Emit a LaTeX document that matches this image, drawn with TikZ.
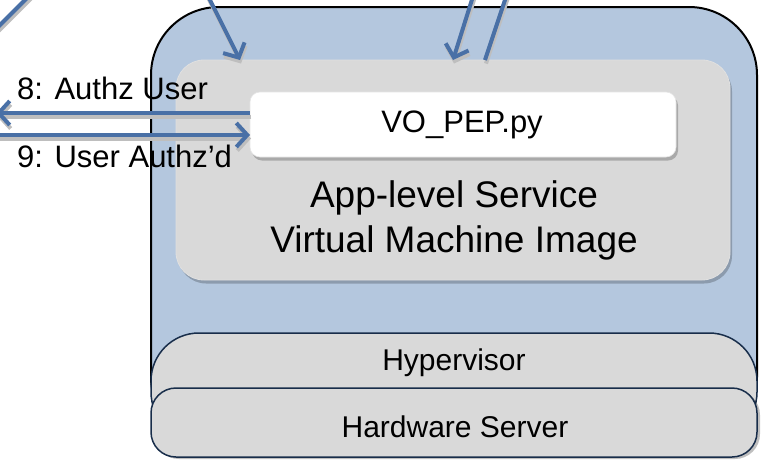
\documentclass[tikz,border=0pt]{standalone}
\usepackage{fontspec}
\setmainfont{Liberation Sans}
\usetikzlibrary{arrows.meta,shadows}
\definecolor{boxblue}{RGB}{180,199,222}
\definecolor{boxgray}{RGB}{217,217,217}
\definecolor{navy}{RGB}{24,45,74}
\definecolor{arrowblue}{RGB}{73,112,166}
\definecolor{shadowgray}{RGB}{190,190,190}
\begin{document}
\begin{tikzpicture}[x=1pt,y=-1pt,
  box/.style={inner sep=0pt, outer sep=0pt},
  boxshadow/.style={drop shadow={shadow xshift=2pt, shadow yshift=-3.5pt, opacity=0.22, fill=black}},
  layerbox/.style={box, draw=navy, line width=1.5pt, fill=boxgray, minimum width=606pt},
  txt/.style={inner sep=0pt, anchor=base},
  conn/.style={draw=arrowblue, line width=4pt,
    preaction={draw=shadowgray, line width=4pt, transform canvas={xshift=1pt,yshift=-3.5pt}}},
  opentip/.style={-{Straight Barb[length=11pt,width=24pt]}}
]
\useasboundingbox (0,0) rectangle (765,461);
\clip (0,0) rectangle (765,461);

% outer VM host box
\node[box, draw=black, line width=2pt, fill=boxblue, rounded corners=68pt,
      minimum width=606pt, minimum height=438pt] (outer) at (454,226) {};

% app-level service VM image
\node[box, fill=boxgray, draw=black!12, line width=0.8pt, rounded corners=28pt, boxshadow,
      minimum width=554pt, minimum height=220pt] (app) at (453,170) {};
\node[txt, font=\fontsize{37}{45}\selectfont] (appl1) at (454,207) {App-level Service};
\node[txt, font=\fontsize{37}{45}\selectfont] (appl2) at (454,252) {Virtual Machine Image};

% VO_PEP.py
\node[box, fill=white, draw=black!10, line width=0.6pt, rounded corners=10pt, boxshadow,
      minimum width=426pt, minimum height=65pt] (pep) at (463,124.5) {};
\node[txt, font=\fontsize{31}{37}\selectfont] (peplbl) at (462,132) {VO\_PEP.py};

% hypervisor and hardware
\node[layerbox, rounded corners=48pt, minimum height=107pt] (hyp) at (454,386.5) {};
\node[txt, font=\fontsize{30}{36}\selectfont] (hyplbl) at (454,370) {Hypervisor};
\node[layerbox, rounded corners=25pt, minimum height=69pt,
      drop shadow={shadow xshift=3pt, shadow yshift=-2pt, opacity=0.25, fill=black}] (hw) at (454,422.5) {};
\node[txt, font=\fontsize{30}{36}\selectfont] (hwlbl) at (455,437) {Hardware Server};

% free ends of connectors
\coordinate (a0s) at (32,-7);
\coordinate (a0e) at (-7,32);
\coordinate (a1s) at (206,-8);
\coordinate (a1e) at (240,60);
\coordinate (a2s) at (475,-10);
\coordinate (a2e) at (453,60);
\coordinate (a3s) at (485,60);
\coordinate (a3e) at (509,-12);
\coordinate (a8e) at (-4,113);
\coordinate (a9s) at (-8,135);

% connectors
\draw[conn] (a0s) -- (a0e);
\draw[conn, opentip] (a1s) -- (a1e);
\draw[conn, opentip] (a2s) -- (a2e);
\draw[conn] (a3s) -- (a3e);
\draw[conn, opentip] (pep.west |- a8e) -- (a8e);
\draw[conn, opentip] (a9s) -- (pep.west |- a9s);

% labels
\node[txt, anchor=base west, font=\fontsize{31}{37}\selectfont] (l8) at (17,99) {8: Authz User};
\node[txt, anchor=base west, font=\fontsize{31}{37}\selectfont] (l9) at (17,167) {9: User Authz’d};
\end{tikzpicture}
\end{document}
